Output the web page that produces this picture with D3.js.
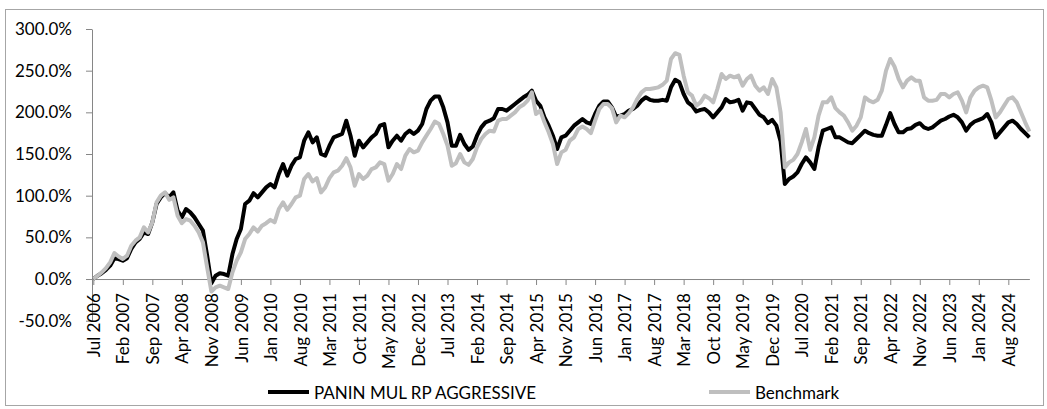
<!DOCTYPE html>
<html>
<head>
<meta charset="utf-8">
<script src="https://cdn.jsdelivr.net/npm/d3@7"></script>
<style>
  html, body { margin: 0; padding: 0; background: #fff; }
  text { font-family: Lato, "Open Sans", sans-serif; fill: #000; }
</style>
</head>
<body>
<div id="display"></div>
<script>
// monthly cumulative return (%), Jul 2006 .. Jan 2025
const startMonth = new Date(2006, 6, 1);

const fund = [
  0, 4, 7, 11, 16, 25, 24, 22, 25, 36, 44, 48, 56, 54, 68, 90, 98, 103, 98, 104,
  82, 74, 84, 80, 74, 66, 58, 28, -5, 4, 7, 6, 4, 30, 48, 60, 90, 94, 103, 98,
  104, 110, 114, 110, 126, 138, 124, 136, 144, 146, 166, 176, 164, 170, 150, 148, 160, 170, 172, 174,
  190, 172, 148, 166, 158, 164, 170, 174, 184, 186, 158, 166, 172, 166, 174, 178, 174, 178, 186, 204,
  214, 219, 219, 206, 188, 160, 160, 173, 162, 155, 159, 172, 182, 188, 190, 193, 204, 204, 202, 206,
  210, 214, 218, 221, 226, 214, 208, 194, 184, 172, 156, 170, 172, 178, 184, 188, 192, 188, 186, 198,
  208, 213, 213, 206, 195, 196, 198, 202, 204, 208, 214, 218, 215, 214, 214, 215, 214, 230, 239, 236,
  222, 212, 208, 201, 203, 204, 200, 194, 200, 206, 216, 212, 213, 215, 202, 212, 211, 204, 197, 194,
  187, 191, 184, 165, 114, 120, 123, 128, 138, 146, 140, 132, 158, 178, 180, 182, 170, 170, 167, 164,
  163, 168, 173, 178, 175, 173, 172, 172, 185, 199, 186, 176, 176, 180, 181, 185, 187, 182, 180, 182,
  186, 190, 192, 195, 197, 194, 188, 178, 185, 189, 191, 193, 198, 188, 170, 176, 182, 188, 190, 186,
  180, 175, 170
];

const benchmark = [
  0, 4, 8, 13, 20, 31, 27, 24, 28, 40, 46, 50, 62, 56, 68, 92, 100, 104, 95, 98,
  76, 67, 72, 70, 64, 56, 44, 14, -15, -10, -8, -10, -12, 8, 22, 32, 48, 54, 62, 57,
  64, 67, 71, 68, 84, 92, 83, 90, 98, 100, 120, 126, 117, 121, 104, 110, 121, 128, 130, 136,
  145, 134, 112, 126, 120, 124, 132, 134, 140, 138, 118, 126, 138, 132, 148, 156, 152, 154, 164, 172,
  180, 189, 186, 174, 160, 136, 139, 150, 140, 137, 144, 158, 168, 174, 178, 177, 190, 192, 192, 196,
  200, 206, 209, 214, 224, 198, 202, 188, 176, 162, 138, 152, 155, 166, 170, 180, 183, 180, 175, 190,
  204, 210, 210, 205, 188, 196, 194, 199, 206, 216, 224, 228, 228, 229, 230, 233, 238, 264, 271, 269,
  244, 224, 220, 208, 212, 220, 217, 212, 228, 246, 240, 244, 242, 244, 232, 240, 244, 232, 226, 230,
  222, 240, 230, 200, 134, 140, 143, 150, 164, 180, 155, 170, 196, 212, 212, 218, 205, 200, 196, 188,
  178, 184, 194, 218, 214, 212, 215, 226, 250, 264, 255, 240, 230, 238, 242, 238, 238, 218, 214, 214,
  215, 222, 222, 218, 222, 224, 214, 200, 218, 226, 230, 232, 230, 214, 194, 200, 208, 216, 218, 212,
  200, 188, 177
];

const tickLabels = [
  "Jul 2006", "Feb 2007", "Sep 2007", "Apr 2008", "Nov 2008", "Jun 2009", "Jan 2010", "Aug 2010",
  "Mar 2011", "Oct 2011", "May 2012", "Dec 2012", "Jul 2013", "Feb 2014", "Sep 2014", "Apr 2015",
  "Nov 2015", "Jun 2016", "Jan 2017", "Aug 2017", "Mar 2018", "Oct 2018", "May 2019", "Dec 2019",
  "Jul 2020", "Feb 2021", "Sep 2021", "Apr 2022", "Nov 2022", "Jun 2023", "Jan 2024", "Aug 2024"
];

const yTicks = [-50, 0, 50, 100, 150, 200, 250, 300];

const seriesNames = ["PANIN MUL RP AGGRESSIVE", "Benchmark"];
const seriesColors = ["#000000", "#bfbfbf"];

const fmtMonth = d3.timeFormat("%b %Y");
const months = fund.map((_, i) => fmtMonth(d3.timeMonth.offset(startMonth, i)));

const svg = d3.select('#display')
  .append('svg')
  .attr('width', 1047)
  .attr('height', 409);

// chart frame
svg.append('rect')
  .attr('x', 5.5).attr('y', 9.5)
  .attr('width', 1038).attr('height', 396)
  .attr('fill', 'none')
  .attr('stroke', '#a6a6a6');

const x = d3.scalePoint().domain(months).range([93.3, 1029.4]);
const y = d3.scaleLinear().domain([-50, 300]).range([320.7, 29]);

const axisColor = '#868686';

// y axis
const yAxis = svg.append('g')
  .attr('transform', 'translate(92,0)')
  .call(d3.axisLeft(y).tickValues(yTicks).tickSize(6).tickSizeOuter(0).tickPadding(14)
    .tickFormat(d => d.toFixed(1) + '%'));
yAxis.select('.domain').attr('stroke', axisColor);
yAxis.selectAll('.tick line').attr('stroke', axisColor);
yAxis.selectAll('text').attr('font-size', '17px').attr('fill', '#000')
  .attr('font-family', 'Lato, sans-serif');

// x axis on the zero line
const xAxis = svg.append('g')
  .attr('transform', `translate(0,${y(0)})`)
  .call(d3.axisBottom(x).tickValues(tickLabels).tickSize(6).tickSizeOuter(0));
xAxis.select('.domain').attr('stroke', axisColor);
xAxis.selectAll('.tick line').attr('stroke', axisColor);
xAxis.selectAll('text')
  .attr('font-size', '17px')
  .attr('font-family', 'Lato, sans-serif')
  .attr('fill', '#000')
  .attr('transform', 'rotate(-90)')
  .attr('x', -14)
  .attr('y', 0)
  .attr('dy', '0.36em')
  .style('text-anchor', 'end');

// lines
const line = d3.line()
  .x((d, i) => x(months[i]))
  .y(d => y(d));

[fund, benchmark].forEach((s, k) => {
  svg.append('path')
    .datum(s)
    .attr('d', line)
    .attr('fill', 'none')
    .attr('stroke', seriesColors[k])
    .attr('stroke-width', 4)
    .attr('stroke-linejoin', 'round');
});

// legend
const legendX = [268, 709];
seriesNames.forEach((name, k) => {
  svg.append('line')
    .attr('x1', legendX[k]).attr('x2', legendX[k] + 41)
    .attr('y1', 392).attr('y2', 392)
    .attr('stroke', seriesColors[k])
    .attr('stroke-width', 4);
  svg.append('text')
    .attr('x', legendX[k] + 46)
    .attr('y', 393)
    .attr('dy', '0.35em')
    .attr('font-size', '17px')
    .text(name);
});
</script>
</body>
</html>
